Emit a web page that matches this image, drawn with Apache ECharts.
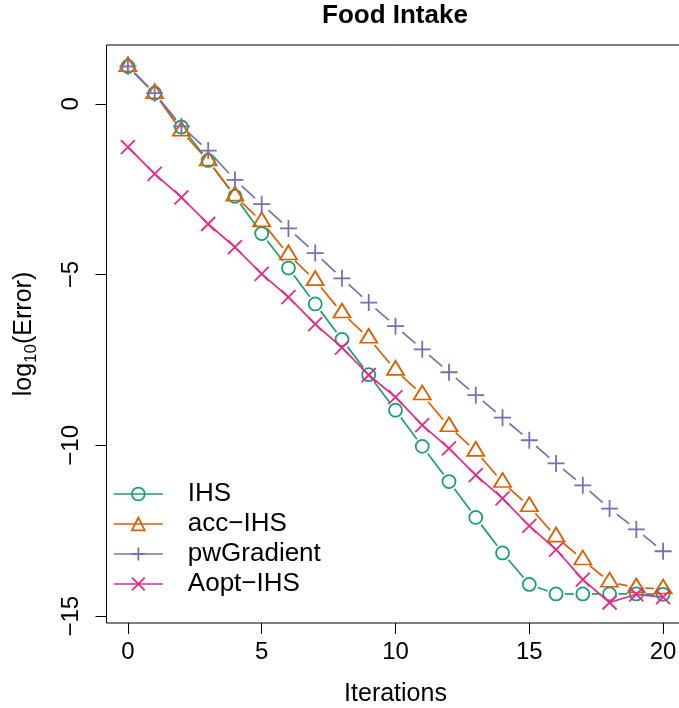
<!DOCTYPE html>
<html>
<head>
<meta charset="utf-8">
<script src="https://cdn.jsdelivr.net/npm/echarts@6/dist/echarts.min.js"></script>
<style>
html,body{margin:0;padding:0;background:#fff;}
#chart{width:679px;height:708px;}
</style>
</head>
<body>
<div id="chart"></div>
<script>
const iterations = [0,1,2,3,4,5,6,7,8,9,10,11,12,13,14,15,16,17,18,19,20];
const ihs = [1.09,0.31,-0.68,-1.66,-2.71,-3.80,-4.81,-5.86,-6.90,-7.93,-8.97,-10.03,-11.06,-12.11,-13.15,-14.07,-14.35,-14.35,-14.35,-14.35,-14.36];
const accIhs = [1.09,0.30,-0.80,-1.67,-2.70,-3.45,-4.42,-5.17,-6.12,-6.86,-7.80,-8.52,-9.45,-10.17,-11.08,-11.79,-12.68,-13.35,-14.00,-14.17,-14.20];
const pwGradient = [1.09,0.31,-0.66,-1.37,-2.23,-2.94,-3.65,-4.37,-5.11,-5.82,-6.51,-7.19,-7.86,-8.53,-9.19,-9.85,-10.53,-11.17,-11.85,-12.46,-13.10];
const aoptIhs = [-1.27,-2.05,-2.74,-3.52,-4.20,-4.98,-5.66,-6.45,-7.14,-7.94,-8.59,-9.41,-10.09,-10.87,-11.55,-12.36,-13.05,-13.93,-14.60,-14.36,-14.44];
const seriesNames = ['IHS', 'acc\u2212IHS', 'pwGradient', 'Aopt\u2212IHS'];
const xTicks = [0,5,10,15,20];
const yTicks = [0,-5,-10,-15];
const titleText = 'Food Intake';
const xName = 'Iterations';

const FONT = '"Liberation Sans", Arial, Helvetica, sans-serif';
const colors = ['#1B9E77', '#D95F02', '#7570B3', '#E7298A'];
const PLUS = 'path://M5,0 L5,10 M0,5 L10,5';
const CROSS = 'path://M0,0 L10,10 M0,10 L10,0';
const LW = 1.7, MW = 1.8, GAP = 9;

function pairs(vals){ return iterations.map((x,i)=>[x, vals[i]]); }

function gapLine(name, vals, color){
  return {
    type: 'custom', name: name + ' segs', silent: true, animation: false,
    data: vals.slice(0, -1).map((v,i)=>[iterations[i], v, iterations[i+1], vals[i+1]]),
    encode: {x: [0,2], y: [1,3]},
    renderItem: function(params, api){
      const p1 = api.coord([api.value(0), api.value(1)]);
      const p2 = api.coord([api.value(2), api.value(3)]);
      const dx = p2[0]-p1[0], dy = p2[1]-p1[1];
      const len = Math.hypot(dx, dy);
      if (len <= 2*GAP) return null;
      const ux = dx/len, uy = dy/len;
      return {type: 'line', shape: {x1: p1[0]+ux*GAP, y1: p1[1]+uy*GAP, x2: p2[0]-ux*GAP, y2: p2[1]-uy*GAP},
              style: {stroke: color, lineWidth: LW, fill: null}};
    }
  };
}

function markers(name, vals, color, symbol, size, offset, showLine){
  return {
    type: 'line', name: name, data: pairs(vals), symbol: symbol, symbolSize: size,
    symbolOffset: offset || [0,0], showSymbol: true, showAllSymbol: true, animation: false,
    lineStyle: {color: color, width: LW, opacity: showLine ? 1 : 0},
    itemStyle: {color: 'rgba(0,0,0,0)', borderColor: color, borderWidth: MW},
    emphasis: {disabled: true}
  };
}

const legendData = seriesNames.map((n,i)=>({
  name: n,
  lineStyle: {color: colors[i], width: LW, opacity: 1, type: 'solid'},
  itemStyle: {color: 'rgba(0,0,0,0)', borderColor: colors[i], borderWidth: MW}
}));

const chart = echarts.init(document.getElementById('chart'), null, {renderer: 'canvas'});
chart.setOption({
  animation: false,
  backgroundColor: '#fff',
  title: {text: titleText, left: 322, top: 3, padding: 0,
          textStyle: {fontFamily: FONT, fontSize: 26, fontWeight: 'bold', color: '#000'}},
  grid: {left: 106.5, right: -5.5, top: 45, bottom: 85, show: true, borderColor: '#000', borderWidth: 1,
         backgroundColor: 'rgba(0,0,0,0)', containLabel: false, outerBoundsMode: 'none'},
  xAxis: {
    type: 'value', min: -0.8, max: 20.8,
    name: xName, nameLocation: 'middle', nameGap: 59,
    nameTextStyle: {fontFamily: FONT, fontSize: 25, color: '#000'},
    axisLine: {show: false, onZero: false},
    axisTick: {show: true, length: 11, customValues: xTicks, lineStyle: {color: '#000', width: 1}},
    axisLabel: {customValues: xTicks, margin: 17, fontFamily: FONT, fontSize: 24, color: '#000'},
    splitLine: {show: false}
  },
  yAxis: {
    type: 'value', min: -15.2, max: 1.72,
    name: '{a|log}{b|10}{a|(Error)}', nameLocation: 'middle', nameGap: 67, nameRotate: 90,
    nameTextStyle: {fontFamily: FONT, fontSize: 25, color: '#000',
      rich: {a: {fontFamily: FONT, fontSize: 25, color: '#000', lineHeight: 30, verticalAlign: 'middle'},
             b: {fontFamily: FONT, fontSize: 17, color: '#000', lineHeight: 17, padding: [12,0,0,0], verticalAlign: 'bottom'}}},
    axisLine: {show: false, onZero: false},
    axisTick: {show: true, length: 11, customValues: yTicks, lineStyle: {color: '#000', width: 1}},
    axisLabel: {customValues: yTicks, rotate: 90, margin: 23, fontFamily: FONT, fontSize: 24, color: '#000',
      formatter: v => v < 0 ? '\u2212' + Math.abs(v) : String(v)},
    splitLine: {show: false}
  },
  legend: {
    orient: 'vertical', left: 113, top: 481, padding: 0,
    itemWidth: 49, itemHeight: 16, itemGap: 4, selectedMode: false,
    textStyle: {fontFamily: FONT, fontSize: 26, lineHeight: 26, color: '#000', padding: [0,0,0,20]},
    data: legendData
  },
  series: [
    gapLine(seriesNames[0], ihs, colors[0]),
    markers(seriesNames[0], ihs, colors[0], 'circle', 13, null, false),
    gapLine(seriesNames[1], accIhs, colors[1]),
    markers(seriesNames[1], accIhs, colors[1], 'triangle', [17,14], [0,-2.3], false),
    gapLine(seriesNames[2], pwGradient, colors[2]),
    markers(seriesNames[2], pwGradient, colors[2], PLUS, 17, null, false),
    markers(seriesNames[3], aoptIhs, colors[3], CROSS, 14, null, true)
  ]
});
</script>
</body>
</html>
